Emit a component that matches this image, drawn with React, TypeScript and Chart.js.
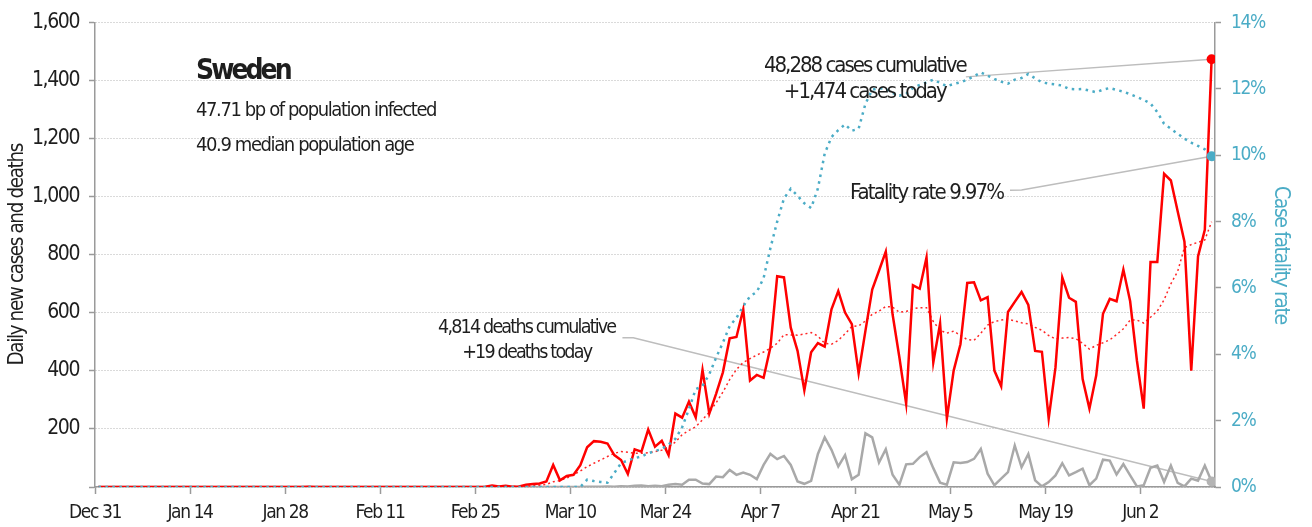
import React, { useEffect, useRef } from 'react';
import { Chart, registerables } from 'chart.js';

Chart.register(...registerables);

const FONT = "'DejaVu Sans Condensed', 'Liberation Sans', Arial, sans-serif";

// x-axis tick labels, one every 14 days starting Dec 31
const tickLabels = ['Dec 31', 'Jan 14', 'Jan 28', 'Feb 11', 'Feb 25', 'Mar 10', 'Mar 24', 'Apr 7', 'Apr 21', 'May 5', 'May 19', 'Jun 2'];

// daily new cases, Dec 31 .. Jun 12
const dailyCases = [
  0, 0, 0, 0, 0, 0, 0, 0, 0, 0,
  0, 0, 0, 0, 0, 0, 0, 0, 0, 0,
  0, 0, 0, 0, 0, 0, 0, 0, 0, 0,
  0, 1, 0, 0, 0, 0, 0, 0, 0, 0,
  0, 0, 0, 0, 0, 0, 0, 0, 0, 0,
  0, 0, 0, 0, 0, 0, 0, 1, 5, 2,
  4, 1, 2, 8, 10, 12, 19, 76, 23, 38,
  42, 75, 137, 158, 156, 150, 110, 93, 45, 130,
  122, 198, 139, 159, 110, 253, 239, 294, 240, 403,
  253, 321, 395, 512, 517, 612, 367, 386, 376, 481,
  726, 722, 549, 469, 333, 464, 496, 484, 612, 675,
  601, 561, 392, 538, 680, 745, 811, 595, 447, 287,
  695, 683, 791, 429, 563, 236, 401, 492, 703, 705,
  643, 654, 401, 347, 603, 638, 672, 627, 469, 466,
  236, 412, 722, 652, 638, 372, 270, 384, 597, 648,
  640, 749, 640, 435, 270, 775, 775, 1079, 1056, 950,
  845, 401, 794, 886, 1474,
];

// 7-day average of new cases (dotted red)
const casesAvg7 = [
  0, 0, 0, 0, 0, 0, 0, 0, 0, 0,
  0, 0, 0, 0, 0, 0, 0, 0, 0, 0,
  0, 0, 0, 0, 0, 0, 0, 0, 0, 0,
  0, 0, 0, 0, 0, 0, 0, 0, 0, 0,
  0, 0, 0, 0, 0, 0, 0, 0, 0, 0,
  0, 0, 0, 0, 0, 0, 0, 0, 1, 1,
  2, 2, 3, 3, 4, 6, 9, 18, 22, 31,
  42, 55, 70, 82, 93, 105, 116, 122, 120, 116,
  116, 118, 122, 127, 138, 155, 180, 195, 207, 232,
  258, 290, 327, 370, 405, 429, 442, 455, 465, 478,
  495, 525, 524, 523, 527, 532, 520, 495, 492, 505,
  528, 553, 555, 572, 595, 606, 622, 620, 602, 605,
  614, 618, 618, 570, 540, 530, 537, 522, 508, 505,
  530, 558, 570, 575, 578, 572, 566, 562, 550, 540,
  522, 510, 513, 515, 511, 495, 475, 488, 497, 507,
  525, 545, 575, 575, 565, 585, 606, 645, 700, 743,
  825, 835, 843, 851, 914,
];

// daily new deaths
const dailyDeaths = [
  0, 0, 0, 0, 0, 0, 0, 0, 0, 0,
  0, 0, 0, 0, 0, 0, 0, 0, 0, 0,
  0, 0, 0, 0, 0, 0, 0, 0, 0, 0,
  0, 0, 0, 0, 0, 0, 0, 0, 0, 0,
  0, 0, 0, 0, 0, 0, 0, 0, 0, 0,
  0, 0, 0, 0, 0, 0, 0, 0, 0, 0,
  0, 0, 0, 0, 0, 0, 0, 0, 0, 0,
  0, 0, 1, 1, 1, 2, 1, 3, 2, 4,
  5, 3, 4, 3, 8, 10, 8, 25, 25, 12,
  10, 36, 34, 59, 42, 50, 42, 27, 76, 114,
  96, 107, 76, 19, 11, 21, 114, 171, 128, 71,
  110, 27, 42, 185, 171, 84, 130, 42, 8, 78,
  80, 103, 120, 65, 15, 8, 85, 83, 86, 97,
  131, 46, 6, 29, 51, 143, 68, 114, 23, 2,
  17, 40, 82, 40, 51, 63, 6, 29, 94, 91,
  43, 79, 40, 2, 6, 66, 74, 17, 74, 14,
  2, 29, 22, 74, 19,
];

// case fatality rate, percent (right axis)
const fatalityRate = [
  0, 0, 0, 0, 0, 0, 0, 0, 0, 0,
  0, 0, 0, 0, 0, 0, 0, 0, 0, 0,
  0, 0, 0, 0, 0, 0, 0, 0, 0, 0,
  0, 0, 0, 0, 0, 0, 0, 0, 0, 0,
  0, 0, 0, 0, 0, 0, 0, 0, 0, 0,
  0, 0, 0, 0, 0, 0, 0, 0, 0, 0,
  0, 0, 0, 0, 0, 0, 0, 0, 0, 0,
  0, 0, 0.22, 0.18, 0.15, 0.13, 0.42, 0.72, 0.8, 0.87,
  0.92, 1.02, 1.08, 1.15, 1.28, 1.45, 1.8, 2.35, 2.95, 3.05,
  3.4, 3.9, 4.35, 4.85, 5.1, 5.45, 5.75, 5.88, 6.3, 7.2,
  8.0, 8.7, 8.99, 8.78, 8.55, 8.41, 9.0, 10.05, 10.55, 10.76,
  10.93, 10.74, 10.8, 11.55, 11.98, 12.02, 12.0, 11.88, 11.8, 11.85,
  12.03, 12.12, 12.2, 12.28, 12.18, 12.08, 12.15, 12.2, 12.28, 12.38,
  12.5, 12.4, 12.3, 12.22, 12.16, 12.28, 12.33, 12.45, 12.32, 12.2,
  12.16, 12.14, 12.1, 12.0, 11.99, 12.0, 11.95, 11.9, 11.98, 12.03,
  11.97, 11.92, 11.84, 11.76, 11.67, 11.56, 11.3, 10.95, 10.8, 10.65,
  10.5, 10.38, 10.28, 10.18, 9.97,
];

const leftAxisTitle = 'Daily new cases and deaths';
const rightAxisTitle = 'Case fatality rate';

const RED = '#ff0000';
const BLUE = '#4bacc6';
const GRAY = '#a9a9a9';
const AXIS = '#9a9a9a';
const TEXT = '#1e1e1e';
const SPACING = '-1.4px';

// annotation texts, positioned in data units (x: day, y: left-axis value)
const notes = [
  { text: 'Sweden', day: 14.88, value: 1405, align: 'left', size: 28, weight: 'bold', spacing: '-3px' },
  { text: '47.71 bp of population infected', day: 14.88, value: 1279, align: 'left', size: 20, weight: 'normal', spacing: '-1.4px' },
  { text: '40.9 median population age', day: 14.88, value: 1159, align: 'left', size: 20, weight: 'normal', spacing: '-1.4px' },
  { text: '48,288 cases cumulative', day: 113.4, value: 1431, align: 'center', size: 22, weight: 'normal', spacing: '-2px' },
  { text: '+1,474 cases today', day: 113.4, value: 1340, align: 'center', size: 22, weight: 'normal', spacing: '-2px' },
  { text: 'Fatality rate 9.97%', day: 133.8, value: 992, align: 'right', size: 22, weight: 'normal', spacing: '-1.8px' },
  { text: '4,814 deaths cumulative', day: 63.6, value: 531, align: 'center', size: 19.5, weight: 'normal', spacing: '-1.8px' },
  { text: '+19 deaths today', day: 63.6, value: 445, align: 'center', size: 19.5, weight: 'normal', spacing: '-1.8px' },
];

// connector lines from a text to the last point of a series
const connectors = [
  { path: [[128.3, 1413]], series: dailyCases, axis: 'y' },
  { path: [[134.8, 1022], [136.5, 1023]], series: fatalityRate, axis: 'y1' },
  { path: [[77.7, 514], [79.3, 514]], series: dailyDeaths, axis: 'y' },
];

const spacingPlugin = {
  id: 'spacing',
  beforeUpdate(chart: any) { (chart.ctx as any).letterSpacing = SPACING; },
  beforeDraw(chart: any) { (chart.ctx as any).letterSpacing = SPACING; },
};

const notesPlugin = {
  id: 'notes',
  beforeDatasetsDraw(chart: any) {
    const { ctx, scales } = chart;
    const xs = scales.x;
    const last = dailyCases.length - 1;
    const lastX = xs.getPixelForValue(last + 0.5);
    ctx.save();
    ctx.strokeStyle = '#bdbdbd';
    ctx.lineWidth = 1.5;
    ctx.setLineDash([]);
    for (const c of connectors) {
      const ax = scales[c.axis];
      ctx.beginPath();
      c.path.forEach(([d, v]: number[], k: number) => {
        const px = xs.getPixelForValue(d);
        const py = scales.y.getPixelForValue(v);
        if (k === 0) ctx.moveTo(px, py); else ctx.lineTo(px, py);
      });
      ctx.lineTo(lastX, ax.getPixelForValue(c.series[last]));
      ctx.stroke();
    }
    ctx.restore();
  },
  afterDatasetsDraw(chart: any) {
    const { ctx, scales } = chart;
    ctx.save();
    ctx.fillStyle = TEXT;
    ctx.textBaseline = 'alphabetic';
    for (const n of notes) {
      ctx.font = `${n.weight} ${n.size}px ${FONT}`;
      (ctx as any).letterSpacing = n.spacing;
      ctx.textAlign = n.align as CanvasTextAlign;
      ctx.fillText(n.text, scales.x.getPixelForValue(n.day), scales.y.getPixelForValue(n.value));
    }
    ctx.restore();
  },
};

export default function App() {
  const ref = useRef<HTMLCanvasElement | null>(null);

  useEffect(() => {
    if (!ref.current) return;
    const last = dailyCases.length - 1;
    const toXY = (arr: number[]) => arr.map((v, i) => ({ x: i + 0.5, y: v }));
    const endRadius = (ctx: any) => (ctx.dataIndex === last ? 5 : 0);

    const chart = new Chart(ref.current, {
      type: 'line',
      data: {
        datasets: [
          {
            label: 'Case fatality rate',
            data: toXY(fatalityRate),
            yAxisID: 'y1',
            borderColor: BLUE,
            borderWidth: 2.5,
            borderDash: [2.5, 4.5],
            pointRadius: endRadius,
            pointBackgroundColor: BLUE,
            pointBorderWidth: 0,
            tension: 0,
          },
          {
            label: 'Daily new cases',
            data: toXY(dailyCases),
            yAxisID: 'y',
            borderColor: RED,
            borderWidth: 2.5,
            pointRadius: endRadius,
            pointBackgroundColor: RED,
            pointBorderWidth: 0,
            tension: 0,
          },
          {
            label: 'Cases 7-day average',
            data: toXY(casesAvg7),
            yAxisID: 'y',
            borderColor: '#ff2626',
            borderWidth: 1.5,
            borderDash: [2, 3],
            pointRadius: 0,
            tension: 0,
          },
          {
            label: 'Daily new deaths',
            data: toXY(dailyDeaths),
            yAxisID: 'y',
            borderColor: GRAY,
            borderWidth: 2.5,
            pointRadius: endRadius,
            pointBackgroundColor: '#b4b4b4',
            pointBorderWidth: 0,
            tension: 0,
          },
        ],
      },
      options: {
        animation: false,
        responsive: false,
        devicePixelRatio: 1,
        events: [],
        layout: { padding: { top: 19, left: 0, right: 0, bottom: 0 } },
        font: { family: FONT },
        plugins: { legend: { display: false }, tooltip: { enabled: false } },
        scales: {
          x: {
            type: 'linear',
            min: 0,
            max: 165,
            afterFit: (s: any) => { s.height = 40; },
            afterBuildTicks: (s: any) => { s.ticks = tickLabels.map((_, k) => ({ value: k * 14 })); },
            border: { display: true, color: AXIS, width: 1.5 },
            grid: { drawOnChartArea: false, drawTicks: true, tickLength: 7, tickColor: AXIS, tickWidth: 1.5 },
            ticks: {
              autoSkip: false,
              maxRotation: 0,
              padding: 7.5,
              color: TEXT,
              font: { family: FONT, size: 19 },
              callback: (v: any) => tickLabels[Math.round(Number(v) / 14)] ?? '',
            },
          },
          y: {
            position: 'left',
            min: 0,
            max: 1600,
            afterFit: (s: any) => { s.width = 95; },
            border: { display: true, color: AXIS, width: 1.5, dash: [1, 2] },
            grid: { color: '#b4b4b4', lineWidth: 1, drawTicks: true, tickLength: 6, tickColor: AXIS, tickWidth: 1.5 },
            ticks: {
              stepSize: 200,
              padding: 10,
              color: TEXT,
              font: { family: FONT, size: 21 },
              callback: (v: any) => (Number(v) === 0 ? '' : Number(v).toLocaleString('en-US')),
            },
            title: {
              display: true,
              text: leftAxisTitle,
              color: TEXT,
              font: { family: FONT, size: 20.5 },
              padding: { top: 5.7, bottom: 0 },
            },
          },
          y1: {
            position: 'right',
            min: 0,
            max: 14,
            afterFit: (s: any) => { s.width = 97; },
            border: { display: true, color: AXIS, width: 1.5 },
            grid: { drawOnChartArea: false, drawTicks: true, tickLength: 6, tickColor: AXIS, tickWidth: 1.5 },
            ticks: {
              stepSize: 2,
              padding: 10,
              color: BLUE,
              font: { family: FONT, size: 19 },
              callback: (v: any) => `${v}%`,
            },
            title: {
              display: true,
              text: rightAxisTitle,
              color: BLUE,
              font: { family: FONT, size: 21 },
              padding: { top: 19.4, bottom: 0 },
            },
          },
        },
      },
      plugins: [spacingPlugin, notesPlugin],
    } as any);

    return () => chart.destroy();
  }, []);

  return (
    <div style={{ position: 'fixed', left: 0, top: 0, width: 1312, height: 527, background: '#fff' }}>
      <canvas ref={ref} width={1312} height={527} style={{ display: 'block', width: 1312, height: 527 }} />
    </div>
  );
}
